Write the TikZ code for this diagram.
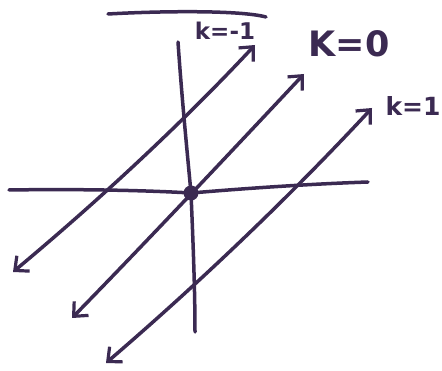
\documentclass[tikz,border=0pt]{standalone}
\usepackage{fontspec}
\setmainfont{DejaVu Sans}
\usetikzlibrary{arrows.meta}
\definecolor{ink}{HTML}{3B2A52}
\begin{document}
\begin{tikzpicture}[x=1pt,y=-1pt,
  pen/.style={draw=ink,line width=3.5pt,line cap=round,line join=round},
  kline/.style={pen,{Straight Barb[length=11pt,width=20pt,line width=3.2pt]}-{Straight Barb[length=11pt,width=20pt,line width=3.2pt]}},
  lbl/.style={text=ink,inner sep=0pt,anchor=center}]
\useasboundingbox (0,0) rectangle (442,371);
% top bar
\coordinate (t1) at (108,14);
\coordinate (t2) at (266,17);
\draw[pen] (t1) .. controls (160,11) and (240,10) .. (t2);
% axes
\coordinate (vtop) at (178,42);
\coordinate (vbot) at (195,332);
\coordinate (hl) at (9,190);
\coordinate (hr) at (368,182);
\node[circle,fill=ink,inner sep=0pt,minimum size=15pt] (o) at (191,193) {};
\draw[pen] (vtop) .. controls (182,100) and (187,150) .. (o.center) .. controls (193,240) and (195,290) .. (vbot);
\draw[pen] (hl) .. controls (70,189) and (140,190) .. (o.center) .. controls (250,188) and (310,184) .. (hr);
% k lines
\coordinate (a1) at (13,272);  \coordinate (a2) at (255,45);
\coordinate (b1) at (72,318);  \coordinate (b2) at (304,74);
\coordinate (c1) at (106,363); \coordinate (c2) at (372,108);
\draw[kline] (a1) .. controls (104,196) and (184,121) .. (a2);
\draw[kline] (b1) .. controls (151,237) and (228,155) .. (b2);
\draw[kline] (c1) .. controls (205,278) and (294,192) .. (c2);
% labels
\node[lbl,font=\bfseries\fontsize{23}{23}\selectfont] (lm) at (225,31) {k=-1};
\node[lbl,font=\bfseries\fontsize{35}{35}\selectfont] (l0) at (349,44) {K=0};
\node[lbl,font=\bfseries\fontsize{25}{25}\selectfont] (l1) at (413,106) {k=1};
\end{tikzpicture}
\end{document}
